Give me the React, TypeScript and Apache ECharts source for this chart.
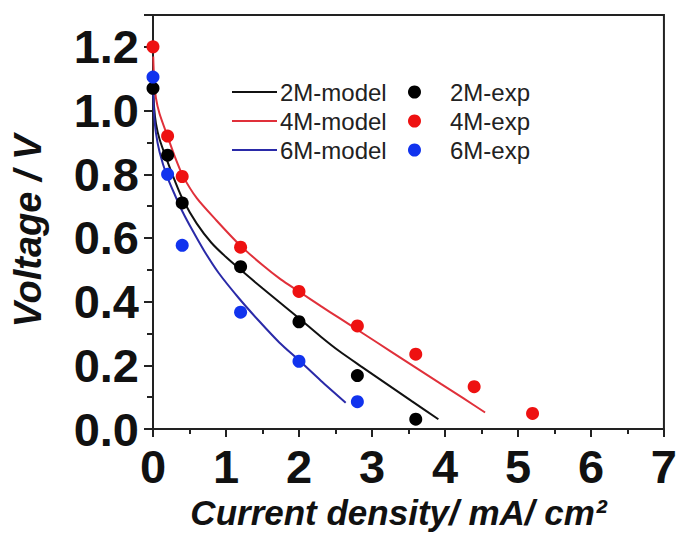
import React, { useEffect, useRef } from "react";
import * as echarts from "echarts";

// Experimental points
const xExp2 = [0, 0.2, 0.4, 1.2, 2.0, 2.8, 3.6];
const yExp2 = [1.07, 0.86, 0.71, 0.51, 0.337, 0.168, 0.031];
const xExp4 = [0, 0.2, 0.4, 1.2, 2.0, 2.8, 3.6, 4.4, 5.2];
const yExp4 = [1.2, 0.92, 0.793, 0.571, 0.432, 0.324, 0.235, 0.133, 0.049];
const xExp6 = [0, 0.2, 0.4, 1.2, 2.0, 2.8];
const yExp6 = [1.105, 0.8, 0.577, 0.367, 0.213, 0.086];

// Model curves
const xModel2 = [0.003, 0.015, 0.04, 0.09, 0.19, 0.3, 0.41, 0.6, 0.8, 1.0, 1.2, 1.5, 1.75, 2.0, 2.3, 2.55, 2.85, 3.2, 3.55, 3.91];
const yModel2 = [1.07, 1.01, 0.96, 0.91, 0.845, 0.779, 0.72, 0.645, 0.585, 0.54, 0.5, 0.442, 0.395, 0.348, 0.29, 0.245, 0.197, 0.142, 0.087, 0.031];
const xModel4 = [0.003, 0.015, 0.04, 0.09, 0.19, 0.3, 0.41, 0.6, 0.87, 1.18, 1.5, 1.75, 2.0, 2.3, 2.55, 2.9, 3.25, 3.6, 3.95, 4.25, 4.55];
const yModel4 = [1.17, 1.1, 1.04, 0.99, 0.925, 0.855, 0.795, 0.725, 0.655, 0.58, 0.515, 0.47, 0.432, 0.386, 0.349, 0.297, 0.245, 0.193, 0.141, 0.097, 0.052];
const xModel6 = [0.003, 0.015, 0.04, 0.09, 0.19, 0.3, 0.41, 0.55, 0.7, 0.9, 1.18, 1.45, 1.73, 2.0, 2.3, 2.64];
const yModel6 = [1.06, 0.99, 0.93, 0.87, 0.795, 0.735, 0.68, 0.62, 0.56, 0.49, 0.41, 0.34, 0.272, 0.216, 0.152, 0.083];

const xTicks = [0, 1, 2, 3, 4, 5, 6, 7];
const yTicks = [0.0, 0.2, 0.4, 0.6, 0.8, 1.0, 1.2];

const modelNames = ["2M-model", "4M-model", "6M-model"];
const expNames = ["2M-exp", "4M-exp", "6M-exp"];

const zip = (xs: number[], ys: number[]) => xs.map((x, i) => [x, ys[i]]);

export default function App() {
  const ref = useRef<HTMLDivElement>(null);
  useEffect(() => {
    if (!ref.current) return;
    const chart = echarts.init(ref.current, null, { renderer: "svg" });
    const axisColor = "#222";
    const labelFont = {
      fontFamily: "Liberation Sans",
      fontWeight: "bold" as const,
      fontSize: 47,
      color: "#111",
    };
    const lineColors = ["#111111", "#e0303a", "#2a2aa8"];
    const dotColors = ["#000000", "#ee1111", "#1133ee"];
    const modelData = [zip(xModel2, yModel2), zip(xModel4, yModel4), zip(xModel6, yModel6)];
    const expData = [zip(xExp2, yExp2), zip(xExp4, yExp4), zip(xExp6, yExp6)];
    chart.setOption({
      animation: false,
      backgroundColor: "#fff",
      grid: {
        left: 153,
        right: 11,
        top: 15,
        bottom: 100,
        show: true,
        borderColor: axisColor,
        borderWidth: 2,
      },
      legend: [
        {
          data: modelNames,
          orient: "vertical",
          left: 232,
          top: 80,
          padding: 0,
          icon: "rect",
          itemWidth: 45,
          itemHeight: 2,
          itemGap: 5,
          textStyle: { fontFamily: "Liberation Sans", fontSize: 24, color: "#222", padding: [0, 0, 0, -2] },
        },
        {
          data: expNames,
          orient: "vertical",
          left: 408,
          top: 80,
          padding: 0,
          icon: "circle",
          itemWidth: 13,
          itemHeight: 13,
          itemGap: 5,
          textStyle: {
            fontFamily: "Liberation Sans",
            fontSize: 24,
            color: "#222",
            padding: [0, 0, 0, 24],
          },
        },
      ],
      xAxis: {
        type: "value",
        min: xTicks[0],
        max: xTicks[xTicks.length - 1],
        interval: 1,
        axisLine: { show: true, onZero: false, lineStyle: { color: axisColor, width: 2 } },
        axisTick: { show: true, inside: false, length: 8, lineStyle: { color: axisColor, width: 2 } },
        minorTick: { show: true, splitNumber: 2, length: 5, lineStyle: { color: axisColor, width: 2 } },
        splitLine: { show: false },
        axisLabel: { ...labelFont, margin: 14, formatter: (v: number) => String(v) },
        name: "Current density/ mA/ cm²",
        nameLocation: "middle",
        nameGap: 60,
        nameTextStyle: {
          fontFamily: "Liberation Sans",
          fontWeight: "bold",
          fontStyle: "italic",
          fontSize: 35,
          color: "#111",
          padding: [0, 20, 0, 0],
        },
      },
      yAxis: {
        type: "value",
        min: 0,
        max: 1.3,
        interval: 0.2,
        axisLine: { show: true, onZero: false, lineStyle: { color: axisColor, width: 2 } },
        axisTick: { show: true, inside: false, length: 9, lineStyle: { color: axisColor, width: 2 } },
        minorTick: { show: true, splitNumber: 2, length: 6, lineStyle: { color: axisColor, width: 2 } },
        splitLine: { show: false },
        axisLabel: {
          ...labelFont,
          margin: 14,
          formatter: (v: number) =>
            yTicks.some((t) => Math.abs(t - v) < 1e-6) ? v.toFixed(1) : "",
        },
        name: "Voltage / V",
        nameLocation: "middle",
        nameGap: 106,
        nameRotate: 90,
        nameTextStyle: {
          fontFamily: "Liberation Sans",
          fontWeight: "bold",
          fontStyle: "italic",
          fontSize: 38,
          color: "#111",
          padding: [0, 18, 0, 0],
        },
      },
      series: [
        ...modelNames.map((name, i) => ({
          name,
          type: "line",
          data: modelData[i],
          symbol: "none",
          smooth: 0.25,
          lineStyle: { color: lineColors[i], width: 2 },
          itemStyle: { color: lineColors[i] },
          z: 2,
        })),
        ...expNames.map((name, i) => ({
          name,
          type: "scatter",
          data: expData[i],
          symbol: "circle",
          symbolSize: 13,
          itemStyle: { color: dotColors[i], opacity: 1 },
          z: 3,
        })),
      ],
    });
    return () => chart.dispose();
  }, []);
  return <div ref={ref} style={{ width: 680, height: 535, position: "absolute", left: 0, top: 0 }} />;
}
